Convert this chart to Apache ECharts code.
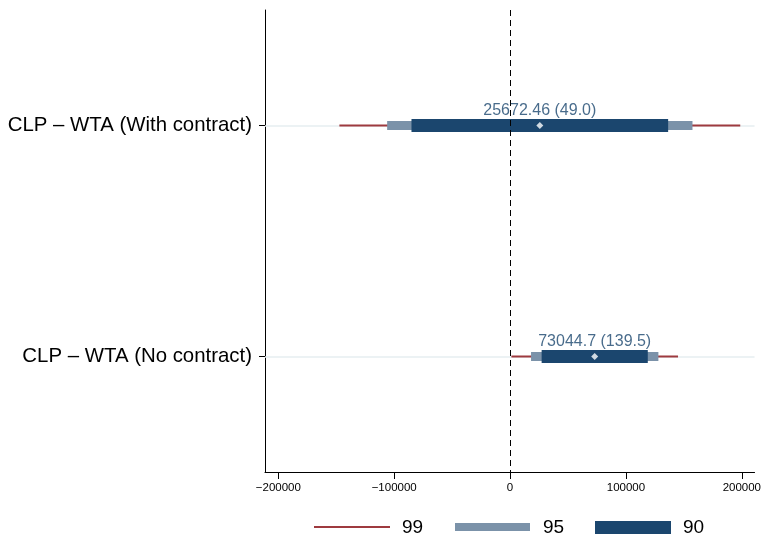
<!DOCTYPE html>
<html><head><meta charset="utf-8">
<script src="https://cdn.jsdelivr.net/npm/echarts@6/dist/echarts.min.js"></script>
<style>html,body{margin:0;padding:0;background:#fff}#c{width:764px;height:540px}</style>
</head><body><div id="c"></div>
<script>
const categories = ["CLP – WTA (With contract)", "CLP – WTA (No contract)"];
const estimates = [25672.46, 73044.7];
const secondary = [49.0, 139.5];
const ci99Low = [-147300, 1150];
const ci99High = [198650, 144950];
const ci95Low = [-106080, 18100];
const ci95High = [157420, 128000];
const ci90Low = [-85080, 27250];
const ci90High = [136420, 118850];
const xTicks = [-200000, -100000, 0, 100000, 200000];
const legendLabels = ["99", "95", "90"];

const FONT = "'Liberation Sans', Arial, Helvetica, sans-serif";
const C99 = '#9e3a3f', C95 = '#7b92a9', C90 = '#1b466e';

function makeRender(h) {
  return function (params, api) {
    const y = api.value(0);
    const p1 = api.coord([api.value(1), y]);
    const p2 = api.coord([api.value(2), y]);
    return {
      type: 'rect',
      shape: { x: p1[0], y: p1[1] - h / 2, width: p2[0] - p1[0], height: h },
      style: { fill: api.visual('color') }
    };
  };
}
function ciData(lo, hi) { return categories.map((c, i) => [c, lo[i], hi[i]]); }

const chart = echarts.init(document.getElementById('c'), null, { renderer: 'canvas' });
chart.setOption({
  animation: false,
  backgroundColor: '#fff',
  textStyle: { fontFamily: FONT },
  grid: { left: 265, right: 9, top: 10, bottom: 68, containLabel: false },
  xAxis: {
    type: 'value', min: -211500, max: 211000,
    axisLine: { show: true, onZero: false, lineStyle: { color: '#000', width: 1 } },
    axisTick: { show: true, length: 7, customValues: xTicks, lineStyle: { color: '#000' } },
    axisLabel: {
      customValues: xTicks, margin: 10, color: '#000', fontSize: 11.5, fontFamily: FONT,
      formatter: v => (v < 0 ? '\u2212' + Math.abs(v) : String(v))
    },
    splitLine: { show: false }
  },
  yAxis: {
    type: 'category', data: categories, inverse: true, boundaryGap: true,
    axisLine: { show: true, onZero: false, lineStyle: { color: '#000', width: 1 } },
    axisTick: { show: true, alignWithLabel: true, length: 6, lineStyle: { color: '#000' } },
    axisLabel: { margin: 13, color: '#000', fontSize: 20.4, fontFamily: FONT },
    splitLine: { show: false }
  },
  series: [
    {
      name: legendLabels[0], type: 'custom', renderItem: makeRender(2),
      itemStyle: { color: C99 }, encode: { y: 0, x: [1, 2] },
      data: ciData(ci99Low, ci99High), z: 2,
      markLine: {
        silent: true, z: 1, symbol: ['none', 'none'], label: { show: false },
        lineStyle: { color: '#e6eef0', width: 1.5, type: 'solid' },
        data: categories.map((c, i) => ({ yAxis: i }))
      }
    },
    {
      name: legendLabels[1], type: 'custom', renderItem: makeRender(9),
      itemStyle: { color: C95 }, encode: { y: 0, x: [1, 2] },
      data: ciData(ci95Low, ci95High), z: 3
    },
    {
      name: legendLabels[2], type: 'custom', renderItem: makeRender(13),
      itemStyle: { color: C90 }, encode: { y: 0, x: [1, 2] },
      data: ciData(ci90Low, ci90High), z: 4
    },
    {
      type: 'scatter', symbol: 'diamond', symbolSize: 7, z: 6,
      itemStyle: { color: '#fff' },
      data: categories.map((c, i) => [estimates[i], c]),
      label: {
        show: true, position: 'top', distance: 3, color: '#1a466e', fontSize: 16, fontFamily: FONT,
        formatter: p => estimates[p.dataIndex] + ' (' + secondary[p.dataIndex].toFixed(1) + ')'
      },
      markLine: {
        silent: true, z: 8, symbol: ['none', 'none'], label: { show: false },
        lineStyle: { color: '#000', width: 1, type: [6, 4] },
        data: [{ xAxis: 0 }]
      }
    }
  ],
  graphic: [
    { type: 'line', shape: { x1: 314, y1: 527, x2: 390, y2: 527 }, style: { stroke: C99, lineWidth: 2 } },
    { type: 'text', left: 402, top: 518, style: { text: legendLabels[0], font: '19px ' + FONT, fill: '#000' } },
    { type: 'rect', shape: { x: 455, y: 523, width: 75, height: 8 }, style: { fill: C95 } },
    { type: 'text', left: 543, top: 518, style: { text: legendLabels[1], font: '19px ' + FONT, fill: '#000' } },
    { type: 'rect', shape: { x: 595, y: 521, width: 76, height: 13 }, style: { fill: C90 } },
    { type: 'text', left: 683, top: 518, style: { text: legendLabels[2], font: '19px ' + FONT, fill: '#000' } }
  ]
});
</script>
</body></html>
